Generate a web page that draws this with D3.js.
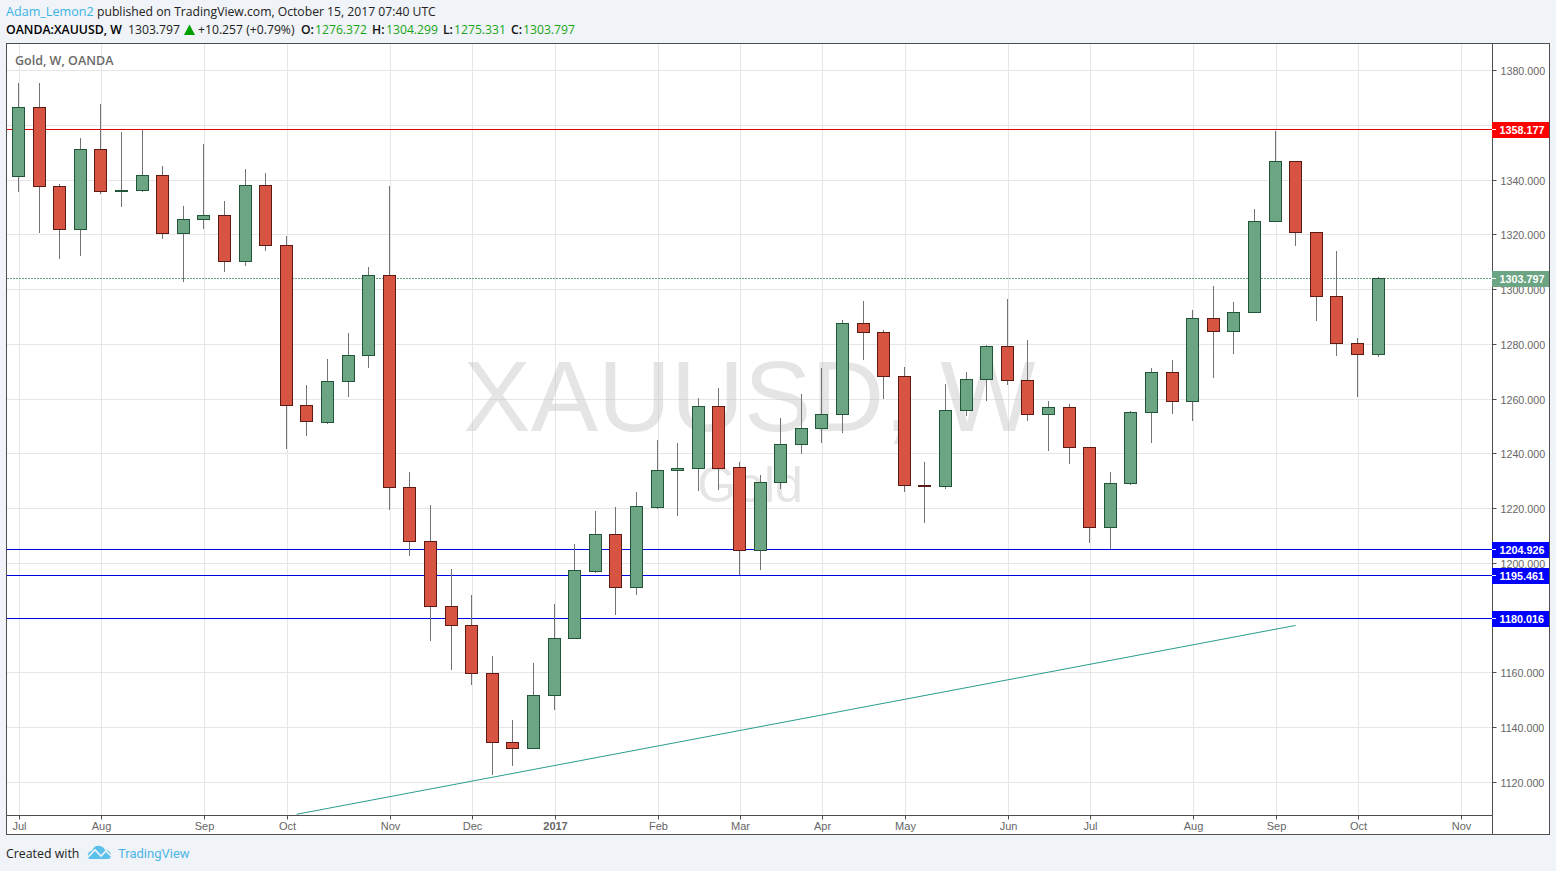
<!DOCTYPE html>
<html><head><meta charset="utf-8">
<script src="https://cdn.jsdelivr.net/npm/d3@7"></script>
<style>
html,body{margin:0;padding:0;background:#f0f3f7;overflow:hidden}
svg{display:block}
</style></head><body>
<svg id="c" width="1556" height="871"></svg>
<script>
const opens=[1341.7,1366.7,1337.8,1322.4,1351.3,1336.3,1336.4,1341.8,1320.7,1325.8,1327.2,1310.4,1338.5,1316.3,1258,1251.8,1266.8,1276.3,1305.5,1228.1,1208.4,1184.6,1177.7,1160.1,1135,1132.8,1152.1,1172.9,1197.4,1210.9,1191.6,1220.7,1234.3,1235,1257.7,1235.4,1205.1,1229.9,1243.8,1249.6,1254.7,1288,1284.7,1268.6,1228.8,1228.4,1256.2,1267.5,1279.6,1267.2,1254.7,1257.3,1242.7,1213.5,1229.5,1255.5,1270.1,1259.5,1289.8,1285,1292,1325.2,1347.1,1321.2,1297.8,1280.7,1276.6];
const closes=[1366.7,1337.8,1322.4,1351.3,1336.3,1336.4,1341.8,1320.7,1325.8,1327.2,1310.4,1338.5,1316.3,1258,1252.2,1266.8,1276.3,1305.5,1228.1,1208.4,1184.6,1177.7,1160.1,1135,1132.8,1152.1,1172.9,1197.8,1210.9,1191.6,1221.1,1234.3,1235,1257.7,1235,1205.1,1229.9,1243.8,1249.6,1254.7,1288,1284.7,1268.6,1228.8,1228.4,1256.2,1267.5,1279.6,1267.2,1254.7,1257.3,1242.7,1213.5,1229.5,1255.5,1270.1,1259.5,1289.8,1285,1292,1325.2,1347.1,1321.2,1297.8,1280.7,1276.7,1304.3];
const highs=[1375.6,1375.6,1338.7,1355.5,1368,1357.7,1358.5,1345.3,1330.7,1353.3,1332.5,1344.2,1342.7,1319.7,1265.3,1274.8,1284.3,1308.4,1338,1233.6,1221.5,1198.1,1188.6,1166.4,1143,1163.8,1185.4,1207.3,1219.3,1220.8,1226.3,1245.2,1244.1,1260.6,1264.2,1237.2,1232.5,1253.3,1262,1271.5,1289.1,1296,1285.4,1271.9,1237.2,1265.7,1270.1,1280,1296.7,1281.8,1259.5,1258.4,1242.7,1233.6,1255.8,1271.5,1274.5,1292.7,1301.5,1295.6,1329.6,1358.1,1347.1,1321.2,1314.3,1282.5,1304.6];
const lows=[1335.8,1320.8,1311.3,1312.4,1335.1,1330.3,1335.8,1318.6,1302.9,1322.3,1306.6,1308.8,1314.3,1242,1246.7,1251.1,1261,1271.5,1219.7,1202.9,1171.8,1161.2,1155.8,1122.9,1126.2,1132.4,1146.6,1172.9,1196.7,1181.3,1188.6,1220,1217.5,1226.6,1227,1195.9,1197.8,1227.3,1240.1,1244.1,1247.8,1274.5,1260.2,1226.3,1215,1227.3,1254,1259.5,1265.3,1252.2,1241.2,1236.5,1207.6,1205.4,1228.8,1244.1,1254.7,1252.2,1267.9,1276.6,1291.6,1324.9,1316.1,1288.7,1275.9,1261,1275.5];
const priceTicks=[1120,1140,1160,1180,1200,1220,1240,1260,1280,1300,1320,1340,1360,1380];
const monthIdx=[0,4,9,13,18,22,26,31,35,39,43,48,52,57,61,65,70];
const monthLabels=["Jul","Aug","Sep","Oct","Nov","Dec","2017","Feb","Mar","Apr","May","Jun","Jul","Aug","Sep","Oct","Nov"];
const levelValues=[1358.177,1204.926,1195.461,1180.016];
const levelColors=["#e60000","#0000e6","#0000e6","#0000e6"];
const labelColors=["#ff0000","#0000ff","#0000ff","#0000ff"];
const lastPrice=1303.797;
const trendIdx=[13.5,62];
const trendPrice=[1108.3,1177.3];

const L=7,R=1492,T=44,B=815,OR=1549,OB=834;
const x=d3.scaleLinear().domain([0,66]).range([18.5,1378.1]);
const y=d3.scaleLinear().domain([1380,1300]).range([70.5,289.5]);
const yLevel=d3.scaleLinear().domain([1380,1180.016]).range([69.3,618.2]);
const sx=v=>Math.floor(x(v))+.5;
const sy=v=>Math.floor(y(v))+.5;           // grid rows
const cy=v=>Math.floor(y(v)+.9)+.5;        // candle rows
const ly=v=>Math.floor(yLevel(v))+.5;      // horizontal level rows
const svg=d3.select("#c");
const AX="Liberation Sans, Arial, sans-serif", UI="'Open Sans', sans-serif";

svg.append("rect").attr("x",6.5).attr("y",43.5).attr("width",OR-6).attr("height",OB-43).attr("fill","#fff").attr("stroke","#4f4f4f");
svg.append("defs").append("clipPath").attr("id","pl").append("rect").attr("x",L).attr("y",T).attr("width",R-L).attr("height",B-T);

const plot=svg.append("g").attr("clip-path","url(#pl)");
plot.selectAll(".gy").data(priceTicks).join("line").attr("x1",L).attr("x2",R).attr("y1",sy).attr("y2",sy).attr("stroke","#e6e6e6");
plot.selectAll(".gx").data(monthIdx).join("line").attr("x1",d=>sx(d)+1).attr("x2",d=>sx(d)+1).attr("y1",T).attr("y2",B).attr("stroke","#e6e6e6");

plot.append("text").attr("x",749.5).attr("y",431).attr("text-anchor","middle").attr("font-family",AX).attr("font-size",101).attr("fill","rgba(190,190,190,.4)").text("XAUUSD, W");
plot.append("text").attr("x",750).attr("y",502).attr("text-anchor","middle").attr("font-family",AX).attr("font-size",50).attr("fill","rgba(190,190,190,.4)").text("Gold");
plot.append("text").attr("x",15).attr("y",65).attr("font-family",UI).attr("font-size",12.5).attr("font-weight",600).attr("fill","#6a6a6a").text("Gold, W, OANDA");

levelValues.forEach((v,i)=>plot.append("line").attr("x1",L).attr("x2",R).attr("y1",ly(v)).attr("y2",ly(v)).attr("stroke",levelColors[i]));
plot.append("line").attr("x1",L).attr("x2",R).attr("y1",ly(lastPrice)).attr("y2",ly(lastPrice)).attr("stroke","#6ba583").attr("stroke-dasharray","2 1");

const idx=d3.range(opens.length);
plot.selectAll(".wick").data(idx).join("line").attr("x1",sx).attr("x2",sx).attr("y1",i=>Math.floor(y(highs[i])+.9)).attr("y2",i=>Math.floor(y(lows[i])+.9)).attr("stroke","#737375");
plot.selectAll(".body").data(idx).join("rect")
 .attr("x",i=>sx(i)-6).attr("width",12)
 .attr("y",i=>cy(Math.max(opens[i],closes[i])))
 .attr("height",i=>Math.max(.01,cy(Math.min(opens[i],closes[i]))-cy(Math.max(opens[i],closes[i]))))
 .attr("fill",i=>closes[i]>=opens[i]?"#6ba583":"#d75442")
 .attr("stroke",i=>closes[i]>=opens[i]?"#225437":"#5b1a13");

plot.append("line").attr("x1",x(trendIdx[0])).attr("y1",y(trendPrice[0])).attr("x2",x(trendIdx[1])).attr("y2",y(trendPrice[1])).attr("stroke","#2a9d8f").attr("stroke-width",1);

// axes
const ya=svg.append("g").attr("transform",`translate(${R+.5},0)`).call(d3.axisRight(y).tickValues(priceTicks).tickFormat(d3.format(".3f")).tickSize(4).tickPadding(4));
ya.selectAll(".tick").attr("transform",d=>`translate(0,${sy(d)})`);
ya.select(".domain").attr("d",`M0,${T}V${OB}`).attr("stroke","#4f4f4f");
ya.selectAll("line").attr("stroke","#4f4f4f");
ya.selectAll("text").attr("font-family",AX).attr("font-size",10.7).attr("fill","#666").attr("dy","0.45em");

const xa=svg.append("g").attr("transform",`translate(0,${B+.5})`).call(d3.axisBottom(x).tickValues(monthIdx).tickFormat((d,i)=>monthLabels[i]).tickSize(4).tickPadding(3));
xa.selectAll(".tick").attr("transform",d=>`translate(${sx(d)+1},0)`);
xa.select(".domain").attr("d",`M${L},0H${R}`).attr("stroke","#4f4f4f");
xa.selectAll("line").attr("stroke","#4f4f4f");
xa.selectAll("text").attr("font-family",AX).attr("font-size",11).attr("fill","#666")
  .attr("font-weight",(d,i)=>monthLabels[i]==="2017"?"bold":"normal");

// price labels
const labels=[{v:lastPrice,c:"#6ba583"}].concat(levelValues.map((v,i)=>({v,c:labelColors[i]})));
const lg=svg.append("g");
labels.forEach(o=>{
  const yy=ly(o.v);
  lg.append("rect").attr("x",R).attr("y",yy-7.5).attr("width",OR-R).attr("height",16).attr("fill",o.c);
  lg.append("line").attr("x1",R).attr("x2",R+4).attr("y1",yy).attr("y2",yy).attr("stroke","#fff");
  lg.append("text").attr("x",1499.5).attr("y",yy+4.5).attr("font-family",AX).attr("font-size",10.8).attr("font-weight","bold").attr("fill","#fff").text(d3.format(".3f")(o.v));
});

// header
const put=(t,px,py,col,size,w)=>svg.append("text").attr("x",px).attr("y",py).attr("font-family",UI).attr("font-size",size).attr("font-weight",w||400).attr("fill",col).text(t);
put("Adam_Lemon2",6,16,"#3bb3e4",12.6);
put("published on TradingView.com, October 15, 2017 07:40 UTC",97,16,"#222",12.18);
put("OANDA:XAUUSD, W",6,34,"#000",12.3,600);
put("1303.797",128,34,"#222",12.2);
svg.append("path").attr("d","M184,35L189.5,24.5L195,35Z").attr("fill","#00a000");
put("+10.257 (+0.79%)",198,34,"#222",12.2);
[["O:",301,"1276.372",315],["H:",372,"1304.299",386],["L:",443,"1275.331",454],["C:",511,"1303.797",523]].forEach(p=>{
  put(p[0],p[1],34,"#111",12.2,600);
  put(p[2],p[3],34,"#1aa51a",12.2);
});

// footer
put("Created with",6,858,"#222",12.35);
svg.append("path").attr("d","M90,859Q87,859 88,854Q89,851 92,851Q94,845 100,846Q104,847 105,850Q110,850 111,855Q111,859 108,859Z").attr("fill","#5bc0ea");
svg.append("path").attr("d","M88,857L95,850L101,856L106,851L111,856").attr("fill","none").attr("stroke","#f0f3f7").attr("stroke-width",1.6);
svg.append("text").attr("x",118).attr("y",858).attr("font-family","Roboto,sans-serif").attr("font-size",13).attr("fill","#4db5e5").text("TradingView");
</script>
</body></html>
